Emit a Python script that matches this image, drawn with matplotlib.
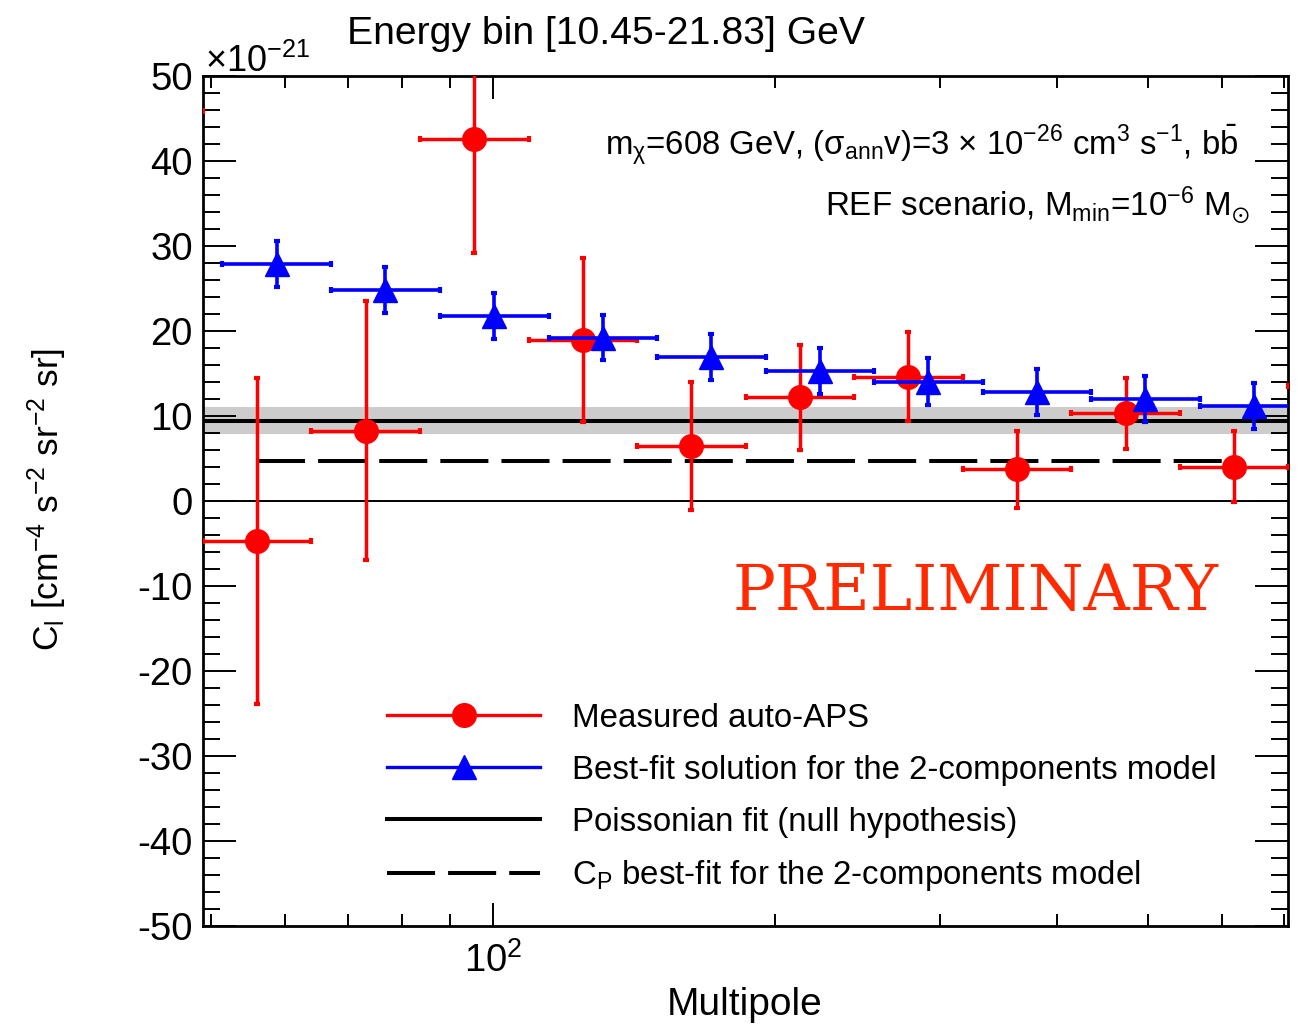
import numpy as np
import matplotlib
matplotlib.use("Agg")
import matplotlib.pyplot as plt
from matplotlib.lines import Line2D
from matplotlib.ticker import MultipleLocator, LogLocator, LogFormatterSciNotation, NullFormatter

plt.rcParams['font.family'] = ['Liberation Sans', 'DejaVu Sans']
plt.rcParams['mathtext.fontset'] = 'custom'
plt.rcParams['mathtext.rm'] = 'Liberation Sans'
plt.rcParams['mathtext.it'] = 'Liberation Sans:italic'
plt.rcParams['mathtext.bf'] = 'Liberation Sans:bold'
plt.rcParams['mathtext.default'] = 'regular'
plt.rcParams['axes.unicode_minus'] = False
plt.rcParams['lines.scale_dashes'] = False

# Multipole bin edges (log-spaced); the outer two bins fall outside the plotted range
bin_edges = [37.5, 49.0, 64.0, 83.6, 109.2, 142.6, 186.2, 243.1, 317.4, 414.5, 541.2, 706.0, 922.0]

# Measured auto-APS, in units of 1e-21 cm^-4 s^-2 sr^-2 sr
meas_cl = [45.9, -4.74, 8.24, 42.6, 18.9, 6.43, 12.16, 14.6, 3.69, 10.28, 4.0, 13.5]
meas_err = [0.0, 19.2, 15.2, 13.4, 9.65, 7.5, 6.15, 5.25, 4.5, 4.2, 4.2, 0.0]

# Best-fit 2-components model in the ten plotted bins
fit_cl = [27.9, 24.8, 21.73, 19.2, 16.9, 15.26, 14.0, 12.8, 11.96, 11.14]
fit_err = [2.7, 2.7, 2.75, 2.7, 2.75, 2.7, 2.75, 2.7, 2.75, 2.75]

# Poissonian fit (null hypothesis) with its 1-sigma band, and C_P of the 2-components model
cp_null = 9.41
cp_null_err = 1.57
cp_2comp = 4.71

x_range = (49.0, 706.0)
fit_shift = 1.05  # small horizontal offset of the model points for readability

edges = np.array(bin_edges)
lo_e, hi_e = edges[:-1], edges[1:]
centers = np.sqrt(lo_e * hi_e)
meas_xerr = [centers - lo_e, hi_e - centers]

fit_centers = centers[1:-1] * fit_shift
fit_lo = lo_e[1:-1] * fit_shift
fit_hi = hi_e[1:-1] * fit_shift
fit_xerr = [fit_centers - fit_lo, fit_hi - fit_centers]

fig = plt.figure(figsize=(13.04, 10.25), dpi=100)
ax = fig.add_axes([0.1554, 0.0969, 0.9877 - 0.1554, 0.9261 - 0.0969])
ax.set_xscale('log')
ax.set_xlim(*x_range)
ax.set_ylim(-50, 50)

ax.axhspan(cp_null - cp_null_err, cp_null + cp_null_err, color='#cccccc', lw=0, zorder=1)
ax.axhline(cp_null, color='black', lw=2.9, zorder=2)
ax.axhline(0, color='black', lw=1.4, zorder=2)
ax.plot([centers[1], centers[-2]], [cp_2comp, cp_2comp], color='black', lw=2.9,
        dashes=(34.6, 9.4), zorder=2)

ax.errorbar(centers, meas_cl, xerr=meas_xerr, yerr=meas_err, fmt='o', color='red',
            ms=17, mec='red', elinewidth=2.5, capsize=2.4, capthick=3.0, zorder=3)
ax.errorbar(fit_centers, fit_cl, xerr=fit_xerr, yerr=fit_err, fmt='^', color='blue',
            ms=17, mec='blue', elinewidth=2.6, capsize=2.4, capthick=3.0, zorder=4)

# axes styling
for sp in ax.spines.values():
    sp.set_linewidth(2.0)
ax.yaxis.set_major_locator(MultipleLocator(10))
ax.yaxis.set_minor_locator(MultipleLocator(2))
ax.xaxis.set_major_locator(LogLocator(base=10))
ax.xaxis.set_minor_locator(LogLocator(base=10, subs=np.arange(2, 10)))
ax.xaxis.set_major_formatter(LogFormatterSciNotation())
ax.xaxis.set_minor_formatter(NullFormatter())
ax.tick_params(which='both', direction='in', top=True, right=True, width=1.4, labelsize=27.5)
ax.tick_params(axis='y', which='major', length=23.5, pad=7)
ax.tick_params(axis='y', which='minor', length=12.5)
ax.tick_params(axis='x', which='major', length=16.5, pad=12)
ax.tick_params(axis='x', which='minor', length=8.4)

fig.text(347 / 1304, 1 - 44 / 1025, 'Energy bin [10.45-21.83] GeV', fontsize=28.2,
         ha='left', va='baseline')
fig.text(205 / 1304, 1 - 72 / 1025, r'$\times$10$^{-21}$', fontsize=26,
         ha='left', va='baseline')
fig.text(745 / 1304, 1 - 1015 / 1025, 'Multipole', fontsize=28, ha='center', va='baseline')
fig.text(47 / 1304, 1 - 499 / 1025, r'C$_{l}$ [cm$^{-4}$ s$^{-2}$ sr$^{-2}$ sr]', fontsize=25.5,
         rotation=90, ha='center', va='center')

fig.text(1238 / 1304, 1 - 155 / 1025,
         r'm$_{\chi}$=608 GeV, ($\sigma_{ann}$v)=3 $\times$ 10$^{-26}$ cm$^{3}$ s$^{-1}$, b$\bar{b}$',
         fontsize=23.7, ha='right', va='baseline')
fig.text(1250 / 1304, 1 - 216 / 1025, r'REF scenario, M$_{min}$=10$^{-6}$ M$_{\odot}$',
         fontsize=23.9, ha='right', va='baseline')
fig.text(733 / 1304, 1 - 610 / 1025, 'PRELIMINARY', fontsize=46, color='#ff2a00',
         family='DejaVu Serif', ha='left', va='baseline')

handles = [
    Line2D([0], [0], color='red', lw=2.4, marker='o', ms=17),
    Line2D([0], [0], color='blue', lw=2.4, marker='^', ms=17),
    Line2D([0], [0], color='black', lw=2.9),
    Line2D([0], [0], color='black', lw=2.9, dashes=(34.6, 9.4)),
]
labels = ['Measured auto-APS',
          'Best-fit solution for the 2-components model',
          'Poissonian fit (null hypothesis)',
          r'C$_{P}$ best-fit for the 2-components model']
ax.legend(handles, labels, loc='upper left', bbox_to_anchor=(0.1698, 0.262), frameon=False,
          fontsize=23.8, handlelength=4.64, handletextpad=0.97, labelspacing=0.63,
          borderpad=0, borderaxespad=0, numpoints=1)

fig.savefig('out.png', dpi=100)
